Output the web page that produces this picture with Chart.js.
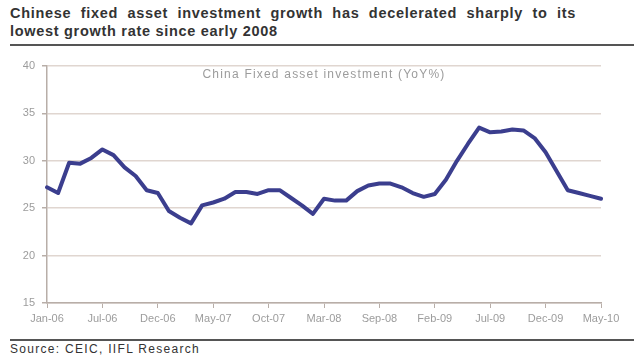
<!DOCTYPE html>
<html>
<head>
<meta charset="utf-8">
<script src="https://cdn.jsdelivr.net/npm/chart.js@4.4.0/dist/chart.umd.min.js"></script>
<style>
  body { margin: 0; width: 634px; height: 358px; background: #fff; position: relative; overflow: hidden;
         font-family: "Liberation Sans", Arial, sans-serif; }
  .headline { position: absolute; left: 10px; width: 566px; font-weight: bold; font-size: 14.5px;
              letter-spacing: 0.7px; color: #333; white-space: nowrap; }
  #head1 { top: 5px; text-align: justify; text-align-last: justify; }
  #head2 { top: 23px; }
  .rule { position: absolute; left: 10px; right: 0; background: #555; }
  #wrap { position: absolute; left: 0; top: 50px; width: 634px; height: 285px; }
  #source { position: absolute; left: 10px; top: 342px; font-size: 12px; letter-spacing: 1.3px; color: #333; }
</style>
</head>
<body>
<div class="headline" id="head1">Chinese fixed asset investment growth has decelerated sharply to its</div>
<div class="headline" id="head2">lowest growth rate since early 2008</div>
<div class="rule" style="top:44px;height:2px;"></div>
<div id="wrap"><canvas id="faiChart" width="634" height="285"></canvas></div>
<div class="rule" style="top:339px;height:2px;"></div>
<div id="source">Source: CEIC, IIFL Research</div>

<script>
// months on the category axis (Feb-06 and Aug-08 are not in the series)
const months = [
  'Jan-06', 'Mar-06', 'Apr-06', 'May-06', 'Jun-06', 'Jul-06', 'Aug-06', 'Sep-06', 'Oct-06', 'Nov-06',
  'Dec-06', 'Jan-07', 'Feb-07', 'Mar-07', 'Apr-07', 'May-07', 'Jun-07', 'Jul-07', 'Aug-07', 'Sep-07',
  'Oct-07', 'Nov-07', 'Dec-07', 'Jan-08', 'Feb-08', 'Mar-08', 'Apr-08', 'May-08', 'Jun-08', 'Jul-08',
  'Sep-08', 'Oct-08', 'Nov-08', 'Dec-08', 'Jan-09', 'Feb-09', 'Mar-09', 'Apr-09', 'May-09', 'Jun-09',
  'Jul-09', 'Aug-09', 'Sep-09', 'Oct-09', 'Nov-09', 'Dec-09', 'Jan-10', 'Feb-10', 'Mar-10', 'Apr-10',
  'May-10'
];

// fixed asset investment, YoY %
const faiYoY = [
  27.2, 26.6, 29.8, 29.7, 30.3, 31.2, 30.6, 29.3, 28.4, 26.9,
  26.6, 24.7, 24.0, 23.4, 25.3, 25.6, 26.0, 26.7, 26.7, 26.5,
  26.9, 26.9, 26.1, 25.3, 24.4, 26.0, 25.8, 25.8, 26.8, 27.4,
  27.6, 27.6, 27.2, 26.6, 26.2, 26.5, 28.0, 30.0, 31.8, 33.5,
  33.0, 33.1, 33.3, 33.2, 32.4, 30.9, 28.9, 26.9, 26.6, 26.3,
  26.0
];

const yMin = 15, yMax = 40, yStep = 5;
const labelEvery = 5;
const seriesName = 'China Fixed asset investment (YoY%)';

const axisColor = '#b8aea8';
const gridColor = '#e0d6d0';
const textColor = '#9c9c9c';
const lineColor = '#3b3e8e';

Chart.defaults.font.family = '"Liberation Sans", Arial, sans-serif';

// series name written inside the plot, near the top
const seriesNamePlugin = {
  id: 'seriesName',
  afterDraw(chart) {
    const { ctx, chartArea } = chart;
    ctx.save();
    ctx.font = '12px "Liberation Sans", Arial, sans-serif';
    ctx.letterSpacing = '1.2px';
    ctx.fillStyle = textColor;
    ctx.textAlign = 'center';
    ctx.textBaseline = 'middle';
    ctx.fillText(seriesName, (chartArea.left + chartArea.right) / 2, chartArea.top + 9);
    ctx.restore();
  }
};

new Chart(document.getElementById('faiChart'), {
  type: 'line',
  data: {
    labels: months,
    datasets: [{
      label: seriesName,
      data: faiYoY,
      borderColor: lineColor,
      borderWidth: 4,
      pointRadius: 0,
      tension: 0,
      borderJoinStyle: 'round',
      borderCapStyle: 'round'
    }]
  },
  options: {
    responsive: false,
    animation: false,
    layout: { padding: { top: 16, right: 33, left: 0, bottom: 0 } },
    plugins: { legend: { display: false }, tooltip: { enabled: false } },
    scales: {
      x: {
        type: 'category',
        offset: false,
        grid: {
          drawOnChartArea: false,
          tickLength: 5,
          tickColor: c => (c.index % labelEvery === 0 ? axisColor : 'rgba(0,0,0,0)')
        },
        border: { color: axisColor, width: 1.5 },
        ticks: {
          autoSkip: false,
          maxRotation: 0,
          padding: 4,
          color: textColor,
          font: { size: 11 },
          callback: (v, i) => (i % labelEvery === 0 ? months[i] : '')
        },
        afterFit: s => { s.height = 32; }
      },
      y: {
        min: yMin,
        max: yMax,
        grid: { color: gridColor, lineWidth: 1.5, tickLength: 5, tickColor: axisColor },
        border: { color: axisColor, width: 1.5 },
        ticks: { stepSize: yStep, padding: 7, color: textColor, font: { size: 11 } },
        afterFit: s => { s.width = 47; }
      }
    }
  },
  plugins: [seriesNamePlugin]
});
</script>
</body>
</html>
